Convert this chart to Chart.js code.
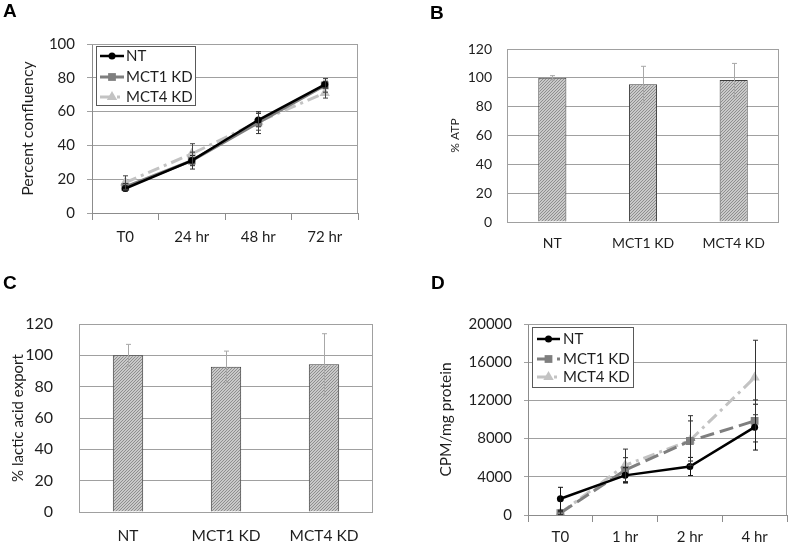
<!DOCTYPE html>
<html>
<head>
<meta charset="utf-8">
<script src="https://cdn.jsdelivr.net/npm/chart.js@4.4.0/dist/chart.umd.min.js"></script>
<style>
  body { margin: 0; background: #fff; width: 796px; height: 552px; position: relative; overflow: hidden; }
  .panel { position: absolute; }
  .panel canvas { display: block; }
  .letter { position: absolute; font: bold 19px "Liberation Sans", Arial, sans-serif; line-height: 1; color: #000; }
</style>
</head>
<body>
<div class="panel" style="left:0;top:0"><canvas id="growthChart" width="400" height="270"></canvas></div>
<div class="panel" style="left:400px;top:0"><canvas id="atpChart" width="396" height="270"></canvas></div>
<div class="panel" style="left:0;top:270px"><canvas id="lactateChart" width="400" height="282"></canvas></div>
<div class="panel" style="left:400px;top:270px"><canvas id="uptakeChart" width="396" height="282"></canvas></div>
<div class="letter" style="left:3px;top:1px">A</div>
<div class="letter" style="left:430px;top:3px">B</div>
<div class="letter" style="left:3px;top:273px">C</div>
<div class="letter" style="left:431px;top:273px">D</div>
<script>
// A - growth
var growthLabels = ['T0', '24 hr', '48 hr', '72 hr'];
var growthNT = [14.5, 31, 55, 76];
var growthMCT1 = [15.5, 31, 53.5, 75.5];
var growthMCT4 = [18, 35, 54, 71];
var growthErrNT = [1.5, 3, 4, 2];
var growthErrMCT1 = [2, 5, 6.5, 4];
var growthErrMCT4 = [4, 6, 5, 3];

// B - ATP, C - lactic acid export
var groupLabels = ['NT', 'MCT1 KD', 'MCT4 KD'];
var atpValues = [100, 95.5, 98.5];
var atpErrors = [1.5, 12.5, 11.5];
var lactateValues = [100, 92.7, 94.3];
var lactateErrors = [7, 10, 19.5];

// D - uptake
var uptakeLabels = ['T0', '1 hr', '2 hr', '4 hr'];
var uptakeNT = [1700, 4150, 5080, 9200];
var uptakeMCT1 = [200, 4700, 7750, 9850];
var uptakeMCT4 = [200, 5200, 7800, 14400];
var uptakeErrNT = [1200, 800, 950, 2400];
var uptakeErrMCT1 = [150, 1300, 2100, 2200];
var uptakeErrMCT4 = [150, 1700, 2600, 3900];

Chart.defaults.font.family = 'Lato, "Open Sans", sans-serif';
Chart.defaults.color = '#1e1e1e';
Chart.defaults.animation = false;
Chart.defaults.plugins.legend.display = false;
Chart.defaults.plugins.tooltip.enabled = false;

var errorBars = {
  id: 'errorBars',
  afterDatasetsDraw: function (chart) {
    var ctx = chart.ctx;
    var y = chart.scales.y;
    chart.data.datasets.forEach(function (ds, i) {
      if (!ds.errors) return;
      var meta = chart.getDatasetMeta(i);
      ctx.save();
      ctx.strokeStyle = ds.errorColor || '#000';
      ctx.lineWidth = 1;
      meta.data.forEach(function (pt, j) {
        var top = y.getPixelForValue(ds.data[j] + ds.errors[j]);
        var bot = y.getPixelForValue(ds.data[j] - ds.errors[j]);
        var x = Math.round(pt.x) + 0.5;
        ctx.beginPath();
        ctx.moveTo(x, top); ctx.lineTo(x, bot);
        ctx.moveTo(x - 2.5, top); ctx.lineTo(x + 2.5, top);
        ctx.moveTo(x - 2.5, bot); ctx.lineTo(x + 2.5, bot);
        ctx.stroke();
      });
      ctx.restore();
    });
  }
};

// top and right edge of the plot area
var plotFrame = {
  id: 'plotFrame',
  beforeDatasetsDraw: function (chart) {
    var a = chart.chartArea, ctx = chart.ctx;
    ctx.save();
    ctx.strokeStyle = '#a0a0a0';
    ctx.lineWidth = 1;
    ctx.beginPath();
    ctx.moveTo(Math.round(a.left), Math.round(a.top) + 0.5);
    ctx.lineTo(Math.round(a.right) - 0.5, Math.round(a.top) + 0.5);
    ctx.lineTo(Math.round(a.right) - 0.5, Math.round(a.bottom));
    ctx.stroke();
    ctx.restore();
  }
};

// boxed legend inside the plot, line + marker per series
var boxLegend = {
  id: 'boxLegend',
  afterDraw: function (chart, args, o) {
    if (!o.rows) return;
    var ctx = chart.ctx;
    ctx.save();
    ctx.fillStyle = '#fff';
    ctx.fillRect(o.x, o.y, o.w, o.h);
    ctx.strokeStyle = '#595959';
    ctx.lineWidth = 1;
    ctx.strokeRect(o.x + 0.5, o.y + 0.5, o.w, o.h);
    ctx.font = o.fontSize + 'px Lato';
    ctx.textBaseline = 'middle';
    chart.data.datasets.forEach(function (ds, i) {
      var cy = o.rows[i];
      ctx.strokeStyle = ds.borderColor;
      ctx.lineWidth = ds.borderWidth;
      ctx.setLineDash(ds.borderDash || []);
      ctx.beginPath();
      ctx.moveTo(o.x0, cy); ctx.lineTo(o.x1, cy);
      ctx.stroke();
      ctx.setLineDash([]);
      ctx.fillStyle = ds.pointBackgroundColor;
      Chart.helpers.drawPoint(ctx, { pointStyle: ds.pointStyle, radius: ds.pointRadius, borderWidth: 0 }, (o.x0 + o.x1) / 2, cy);
      ctx.fillStyle = '#1e1e1e';
      ctx.fillText(ds.label, o.tx, cy);
    });
    ctx.restore();
  }
};

// fine diagonal hatch like the original bars
function hatch() {
  var c = document.createElement('canvas');
  c.width = 3; c.height = 3;
  var g = c.getContext('2d');
  g.fillStyle = '#c9c9c9';
  g.fillRect(0, 0, 3, 3);
  g.fillStyle = '#8e8e8e';
  g.fillRect(2, 0, 1, 1);
  g.fillRect(1, 1, 1, 1);
  g.fillRect(0, 2, 1, 1);
  return g.createPattern(c, 'repeat');
}

function plainTick(v) { return String(v); }

var growth = new Chart(document.getElementById('growthChart'), {
  type: 'line',
  data: {
    labels: growthLabels,
    datasets: [{
      label: 'NT', data: growthNT, errors: growthErrNT, errorColor: '#222',
      borderColor: '#000', borderWidth: 2.5, pointStyle: 'circle', pointRadius: 3.5,
      pointBackgroundColor: '#000', pointBorderWidth: 0, tension: 0
    }, {
      label: 'MCT1 KD', data: growthMCT1, errors: growthErrMCT1, errorColor: '#333',
      borderColor: '#7f7f7f', borderWidth: 3, pointStyle: 'rect', pointRadius: 5.5,
      pointBackgroundColor: '#7f7f7f', pointBorderWidth: 0, tension: 0
    }, {
      label: 'MCT4 KD', data: growthMCT4, errors: growthErrMCT4, errorColor: '#444',
      borderColor: '#c3c3c3', borderWidth: 3, borderDash: [12, 5, 3, 5], pointStyle: 'triangle', pointRadius: 6,
      pointBackgroundColor: '#c3c3c3', pointBorderWidth: 0, tension: 0
    }]
  },
  options: {
    responsive: false,
    layout: { padding: { left: 0, right: 42, top: 44, bottom: 0 } },
    scales: {
      x: {
        offset: true,
        grid: { offset: true, drawOnChartArea: false, tickLength: 7, color: '#8c8c8c' },
        border: { color: '#8c8c8c' },
        ticks: { padding: 8, font: { size: 15 } },
        afterFit: function (s) { s.height = 57; }
      },
      y: {
        min: 0, max: 100,
        ticks: { stepSize: 20, padding: 12, font: { size: 15 }, callback: plainTick },
        grid: { color: '#a0a0a0', tickLength: 5 },
        border: { color: '#8c8c8c' },
        title: { display: true, text: 'Percent confluency', font: { size: 16 }, padding: { top: 18, bottom: 0 } },
        afterFit: function (s) { s.width = 92; }
      }
    },
    plugins: {
      boxLegend: { x: 96, y: 46, w: 99, h: 59, rows: [56, 77, 97], x0: 100, x1: 124, tx: 126, fontSize: 15 }
    }
  },
  plugins: [plotFrame, errorBars, boxLegend]
});

var atp = new Chart(document.getElementById('atpChart'), {
  type: 'bar',
  data: {
    labels: groupLabels,
    datasets: [{
      label: '% ATP', data: atpValues, errors: atpErrors, errorColor: '#a8a8a8',
      backgroundColor: hatch(), borderColor: '#3c3c3c', borderWidth: 1,
      barPercentage: 0.31, categoryPercentage: 1
    }]
  },
  options: {
    responsive: false,
    layout: { padding: { left: 0, right: 17, top: 49, bottom: 0 } },
    scales: {
      x: {
        grid: { display: false, drawTicks: false },
        border: { display: false },
        ticks: { padding: 13, font: { size: 14 } },
        afterFit: function (s) { s.height = 48; }
      },
      y: {
        min: 0, max: 120,
        ticks: { stepSize: 20, padding: 15, font: { size: 14 }, callback: plainTick },
        grid: { color: '#a0a0a0', drawTicks: false },
        border: { color: '#a0a0a0' },
        title: { display: true, text: '% ATP', font: { size: 12 }, padding: { top: 48, bottom: 0 } },
        afterFit: function (s) { s.width = 107; }
      }
    }
  },
  plugins: [plotFrame, errorBars]
});

var lactate = new Chart(document.getElementById('lactateChart'), {
  type: 'bar',
  data: {
    labels: groupLabels,
    datasets: [{
      label: '% lactic acid export', data: lactateValues, errors: lactateErrors, errorColor: '#a8a8a8',
      backgroundColor: hatch(), borderColor: '#3c3c3c', borderWidth: 1,
      barPercentage: 0.31, categoryPercentage: 1
    }]
  },
  options: {
    responsive: false,
    layout: { padding: { left: 0, right: 27, top: 54, bottom: 0 } },
    scales: {
      x: {
        grid: { display: false, drawTicks: false },
        border: { display: false },
        ticks: { padding: 15, font: { size: 15.5 } },
        afterFit: function (s) { s.height = 40; }
      },
      y: {
        min: 0, max: 120,
        ticks: { stepSize: 20, padding: 26, font: { size: 16 }, callback: plainTick },
        grid: { color: '#a0a0a0', drawTicks: false },
        border: { color: '#a0a0a0' },
        title: { display: true, text: '% lactic acid export', font: { size: 15 }, padding: { top: 9, bottom: 0 } },
        afterFit: function (s) { s.width = 79; }
      }
    }
  },
  plugins: [plotFrame, errorBars]
});

var uptake = new Chart(document.getElementById('uptakeChart'), {
  type: 'line',
  data: {
    labels: uptakeLabels,
    datasets: [{
      label: 'NT', data: uptakeNT, errors: uptakeErrNT, errorColor: '#111',
      borderColor: '#000', borderWidth: 2.5, pointStyle: 'circle', pointRadius: 3.5,
      pointBackgroundColor: '#000', pointBorderWidth: 0, tension: 0
    }, {
      label: 'MCT1 KD', data: uptakeMCT1, errors: uptakeErrMCT1, errorColor: '#222',
      borderColor: '#7f7f7f', borderWidth: 3, borderDash: [14, 6], pointStyle: 'rect', pointRadius: 5.5,
      pointBackgroundColor: '#7f7f7f', pointBorderWidth: 0, tension: 0
    }, {
      label: 'MCT4 KD', data: uptakeMCT4, errors: uptakeErrMCT4, errorColor: '#333',
      borderColor: '#c3c3c3', borderWidth: 3, borderDash: [12, 5, 3, 5], pointStyle: 'triangle', pointRadius: 6,
      pointBackgroundColor: '#c3c3c3', pointBorderWidth: 0, tension: 0
    }]
  },
  options: {
    responsive: false,
    layout: { padding: { left: 0, right: 9, top: 54, bottom: 0 } },
    scales: {
      x: {
        offset: true,
        grid: { offset: true, drawOnChartArea: false, tickLength: 7, color: '#8c8c8c' },
        border: { color: '#8c8c8c' },
        ticks: { padding: 6, font: { size: 15 } },
        afterFit: function (s) { s.height = 37; }
      },
      y: {
        min: 0, max: 20000,
        ticks: { stepSize: 4000, padding: 12, font: { size: 15 }, callback: plainTick },
        grid: { color: '#a0a0a0', tickLength: 4 },
        border: { color: '#8c8c8c' },
        title: { display: true, text: 'CPM/mg protein', font: { size: 15.5 }, padding: { top: 37, bottom: 0 } },
        afterFit: function (s) { s.width = 128; }
      }
    },
    plugins: {
      boxLegend: { x: 132, y: 57, w: 101, h: 60, rows: [69, 89, 107], x0: 137, x1: 160, tx: 163, fontSize: 15 }
    }
  },
  plugins: [plotFrame, errorBars, boxLegend]
});
</script>
</body>
</html>
